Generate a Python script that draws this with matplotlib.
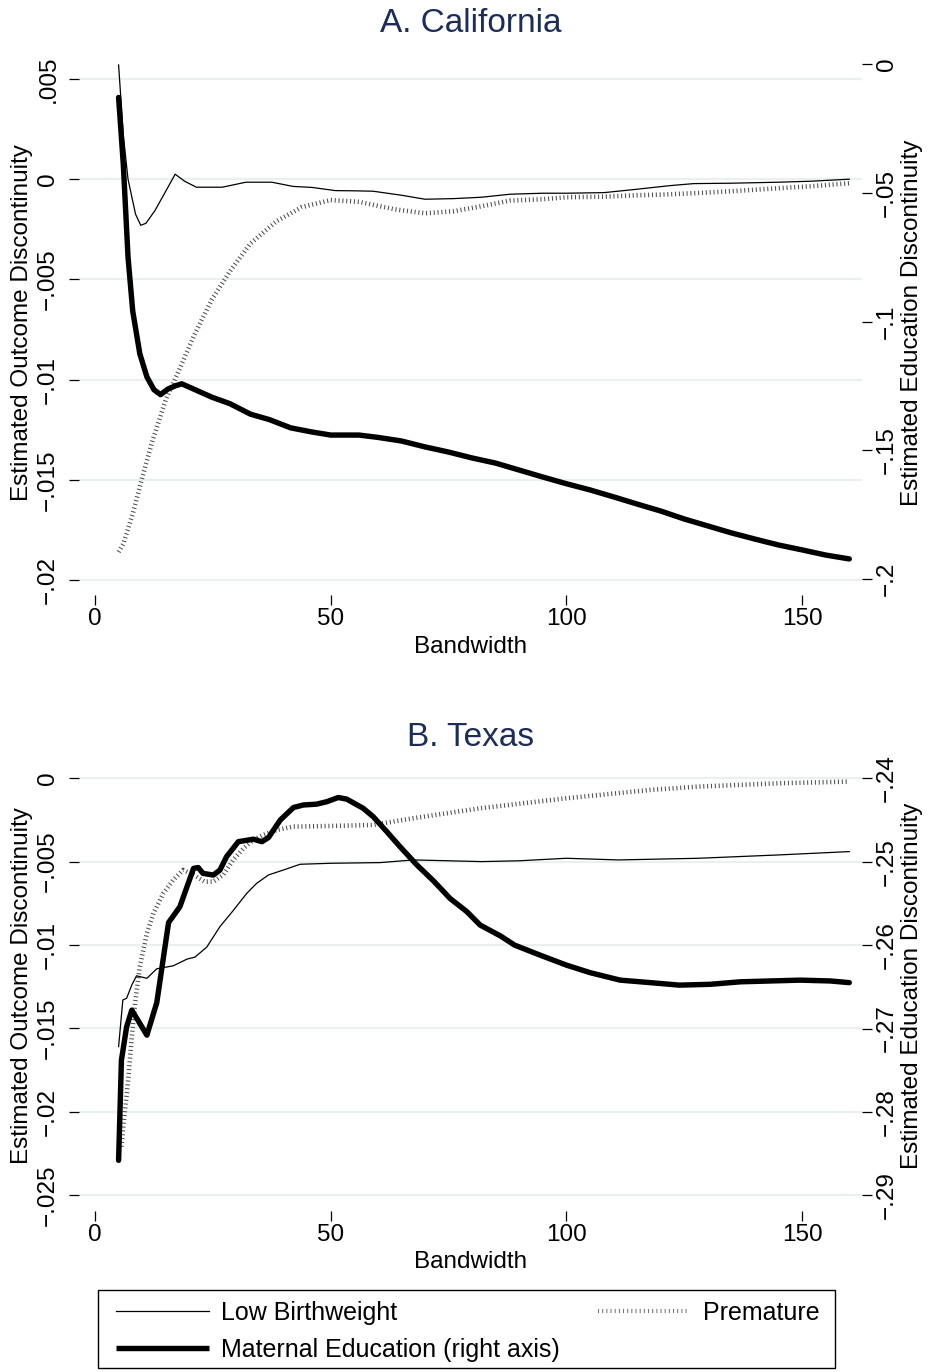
import matplotlib
matplotlib.use("Agg")
import matplotlib.pyplot as plt
from matplotlib.lines import Line2D
from matplotlib.patches import Rectangle

plt.rcParams['font.family'] = ['Liberation Sans', 'DejaVu Sans']

# ---------------- data ----------------
# A. California
ca_lbw_x = [5, 6, 7, 8.6, 9.7, 10.8, 12.7, 15, 17, 19, 21.5, 27, 32, 37.5, 42, 46, 51, 55, 59, 65,
            70, 76, 82, 88, 95, 100, 108, 115, 122, 127, 135, 145, 152, 160]
ca_lbw = [0.0057, 0.0022, 0.0000, -0.00175, -0.0023, -0.0022, -0.00157, -0.0006, 0.00025, -0.0001,
          -0.0004, -0.0004, -0.00015, -0.00015, -0.00036, -0.00041, -0.00057, -0.00058, -0.0006, -0.0008,
          -0.0010, -0.00097, -0.0009, -0.00075, -0.0007, -0.0007, -0.00067, -0.0005, -0.00032, -0.00022,
          -0.0002, -0.00015, -0.0001, 0.0]

ca_prem_x = [5, 6, 8, 10, 12, 15, 17.7, 21, 24.8, 28.6, 33, 38.5, 43.8, 50, 56, 63.5, 70, 76, 82,
             88, 95, 100, 108, 115, 120, 127, 135, 145, 152, 160]
ca_prem = [-0.0186, -0.0182, -0.0167, -0.0149, -0.0132, -0.0110, -0.0096, -0.0078, -0.0060, -0.0046,
           -0.0032, -0.0021, -0.0014, -0.00104, -0.00113, -0.0015, -0.0017, -0.0016, -0.00135,
           -0.00107, -0.0010, -0.0009, -0.00087, -0.0008, -0.00077, -0.0007, -0.0006, -0.00045,
           -0.00035, -0.0002]

ca_med_x = [5, 6, 7, 8, 9.5, 11, 12.5, 13.9, 15.4, 17, 18.4, 21, 24.8, 28.6, 33, 37, 41.5, 46, 50,
            56, 60, 65, 70, 75, 80, 85, 90, 95, 100, 105, 110, 115, 120, 125, 130, 135, 140, 145,
            150, 155, 160]
ca_med = [-0.0130, -0.0390, -0.0750, -0.0960, -0.1125, -0.1215, -0.1265, -0.1284, -0.1263, -0.1250,
          -0.1242, -0.1263, -0.1294, -0.1319, -0.1360, -0.1381, -0.1413, -0.1429, -0.1441, -0.1441,
          -0.1450, -0.1464, -0.1487, -0.1507, -0.1530, -0.1550, -0.1577, -0.1604, -0.1630, -0.1654,
          -0.1681, -0.1709, -0.1736, -0.1767, -0.1794, -0.1821, -0.1845, -0.1868, -0.1887, -0.1907,
          -0.1922]

# B. Texas
tx_lbw_x = [5, 5.9, 6.7, 7.8, 8.8, 11, 13.1, 16.6, 19.5, 21.2, 23.7, 26.5, 29.3, 32.2, 34.3, 36.8,
            40, 43.5, 50, 60.5, 67.5, 75, 82, 90, 100, 111, 128, 145, 160]
tx_lbw = [-0.0161, -0.0133, -0.0132, -0.0124, -0.01185, -0.0120, -0.01143, -0.01125, -0.01085,
          -0.01073, -0.01013, -0.0089, -0.00794, -0.0069, -0.0063, -0.0058, -0.0055, -0.00516,
          -0.0051, -0.00506, -0.0049, -0.00495, -0.0050, -0.00495, -0.0048, -0.0049, -0.0048,
          -0.0046, -0.0044]

tx_prem_x = [5.6, 6, 7.1, 7.8, 8.5, 9.5, 11, 12.4, 14.5, 16.6, 18.7, 20.9, 23.3, 25.1, 27.2, 29.3,
             31.5, 33.6, 35.7, 38.6, 42.1, 50.6, 59, 67.5, 81.7, 100, 117.8, 128, 145, 160]
tx_prem = [-0.0221, -0.0209, -0.0179, -0.0155, -0.0135, -0.0113, -0.0093, -0.0081, -0.0069, -0.0061,
           -0.0055, -0.0058, -0.0062, -0.0062, -0.0058, -0.0049, -0.0042, -0.0037, -0.0034, -0.0031,
           -0.0029, -0.00286, -0.0028, -0.0024, -0.0018, -0.0012, -0.0007, -0.0005, -0.0003, -0.0002]

tx_med_x = [5, 5.6, 6.7, 7.8, 11, 13.1, 15.6, 18, 20.9, 21.9, 22.9, 25.1, 26.5, 27.9, 30.4, 33.6,
            35.4, 36.8, 39.3, 42.1, 44.2, 47, 49.2, 51.6, 53.4, 56.9, 59, 61.9, 64.7, 68.3, 71.8,
            75.3, 78.9, 81.7, 86, 89, 94.4, 100, 105, 111.4, 117.8, 124, 130.5, 136.9, 143.2,
            149.6, 156, 160]
tx_med = [-0.2858, -0.2738, -0.2698, -0.2678, -0.2708, -0.2669, -0.2573, -0.2554, -0.2508, -0.2507,
          -0.2514, -0.2516, -0.2510, -0.2494, -0.2476, -0.2473, -0.2476, -0.2471, -0.2450, -0.2435,
          -0.2432, -0.2431, -0.2428, -0.2423, -0.2425, -0.2436, -0.2446, -0.2464, -0.2482, -0.2504,
          -0.2523, -0.2544, -0.2560, -0.2576, -0.2589, -0.2600, -0.2612, -0.2624, -0.2633, -0.2642,
          -0.2645, -0.2648, -0.2647, -0.2644, -0.2643, -0.2642, -0.2643, -0.2645]

x_ticks = [0, 50, 100, 150]
ca_left_ticks = [0.005, 0, -0.005, -0.01, -0.015, -0.02]
ca_left_labels = ['.005', '0', '\u2212.005', '\u2212.01', '\u2212.015', '\u2212.02']
ca_right_ticks = [0, -0.05, -0.1, -0.15, -0.2]
ca_right_labels = ['0', '\u2212.05', '\u2212.1', '\u2212.15', '\u2212.2']
tx_left_ticks = [0, -0.005, -0.01, -0.015, -0.02, -0.025]
tx_left_labels = ['0', '\u2212.005', '\u2212.01', '\u2212.015', '\u2212.02', '\u2212.025']
tx_right_ticks = [-0.24, -0.25, -0.26, -0.27, -0.28, -0.29]
tx_right_labels = ['\u2212.24', '\u2212.25', '\u2212.26', '\u2212.27', '\u2212.28', '\u2212.29']

titles = ['A. California', 'B. Texas']
series_names = ['Low Birthweight', 'Premature', 'Maternal Education (right axis)']

# ---------------- styling ----------------
W, H = 930, 1372
FS = 17.5
TITLE_COLOR = '#1c2d5c'
GRID_COLOR = '#e8f0f2'
PREM_COLOR = '#4a4a4a'

fig = plt.figure(figsize=(W / 100, H / 100), dpi=100)
fig.patch.set_facecolor('white')


def px_axes(l, t, r, b):
    return fig.add_axes([l / W, 1 - b / H, (r - l) / W, (b - t) / H])


thin_kw = dict(color='black', lw=0.9, solid_joinstyle='round')
thick_kw = dict(color='black', lw=3.9, solid_capstyle='round', solid_joinstyle='round')
prem_kw = dict(color=PREM_COLOR, lw=3.3, linestyle=(0, (0.22, 0.62)), dash_capstyle='butt')


def setup(ax, ax2, xlim, ylim_l, ylim_r, lt, ll, rt, rl):
    ax.set_xlim(*xlim)
    ax.set_ylim(*ylim_l)
    ax2.set_ylim(*ylim_r)
    for a in (ax, ax2):
        for s in a.spines.values():
            s.set_visible(False)
        a.set_facecolor('none')
    ax.set_xticks(x_ticks)
    ax.set_xticklabels([str(t) for t in x_ticks])
    ax.set_yticks(lt)
    ax.set_yticklabels(ll)
    ax2.set_yticks(rt)
    ax2.set_yticklabels(rl)
    ax.tick_params(axis='x', direction='out', length=7.2, width=0.9, pad=2, labelsize=FS)
    ax.tick_params(axis='y', direction='out', length=7.2, width=0.9, pad=7, labelsize=FS)
    ax2.tick_params(axis='y', direction='out', length=7.2, width=0.9, pad=3, labelsize=FS)
    for lab in ax.get_yticklabels():
        lab.set_rotation(90)
        lab.set_va('center')
        lab.set_ha('right')
    for lab in ax2.get_yticklabels():
        lab.set_rotation(90)
        lab.set_va('center')
        lab.set_ha('left')
    ax.grid(axis='y', color=GRID_COLOR, lw=1.6)
    ax.set_axisbelow(True)


xlim = (-3.4, 162.7)

# ---- Panel A ----
axA = px_axes(79, 50, 862, 595)
axA2 = axA.twinx()
setup(axA, axA2, xlim, (-0.020749, 0.006447), (-0.20621, 0.005437),
      ca_left_ticks, ca_left_labels, ca_right_ticks, ca_right_labels)
axA.plot(ca_prem_x, ca_prem, **prem_kw)
axA.plot(ca_lbw_x, ca_lbw, **thin_kw)
axA2.plot(ca_med_x, ca_med, **thick_kw)

# ---- Panel B ----
axB = px_axes(79, 760, 862, 1211)
axB2 = axB.twinx()
setup(axB, axB2, xlim, (-0.025959, 0.001095), (-0.29188, -0.237806),
      tx_left_ticks, tx_left_labels, tx_right_ticks, tx_right_labels)
axB.plot(tx_prem_x, tx_prem, **prem_kw)
axB.plot(tx_lbw_x, tx_lbw, **thin_kw)
axB2.plot(tx_med_x, tx_med, **thick_kw)

# ---- texts ----
for title, yc in zip(titles, [23, 738]):
    fig.text(470.5 / W, 1 - yc / H, title, ha='center', va='center', fontsize=24, color=TITLE_COLOR)
for xc in [647, 1262]:
    fig.text(470.5 / W, 1 - xc / H, 'Bandwidth', ha='center', va='center', fontsize=FS)
for yc in [322.5, 985.5]:
    fig.text(22 / W, 1 - yc / H, 'Estimated Outcome Discontinuity', rotation=90,
             ha='center', va='center', fontsize=FS)
    fig.text(912 / W, 1 - yc / H, 'Estimated Education Discontinuity', rotation=90,
             ha='center', va='center', fontsize=FS)

# ---- legend ----
LFS = 18
fig.patches.append(Rectangle((98 / W, 1 - 1368 / H), (835 - 98) / W, (1368 - 1290) / H,
                             transform=fig.transFigure, fill=False, edgecolor='black', lw=1.0))
h_lbw = Line2D([], [], **thin_kw)
h_med = Line2D([], [], color='black', lw=3.9, solid_capstyle='butt')
h_prem = Line2D([], [], color='#777777', lw=3.0, linestyle=(0, (0.25, 0.75)), dash_capstyle='butt')
leg1 = fig.legend([h_lbw, h_med], [series_names[0], series_names[2]], loc='upper left',
                  bbox_to_anchor=(116 / W, 1 - 1301 / H), frameon=False, fontsize=LFS,
                  borderpad=0, borderaxespad=0, handlelength=3.7, handletextpad=0.5,
                  labelspacing=0.5)
leg2 = fig.legend([h_prem], [series_names[1]], loc='upper left',
                  bbox_to_anchor=(598 / W, 1 - 1301 / H), frameon=False, fontsize=LFS,
                  borderpad=0, borderaxespad=0, handlelength=3.6, handletextpad=0.6)

fig.savefig('out.png', dpi=100, facecolor='white')
